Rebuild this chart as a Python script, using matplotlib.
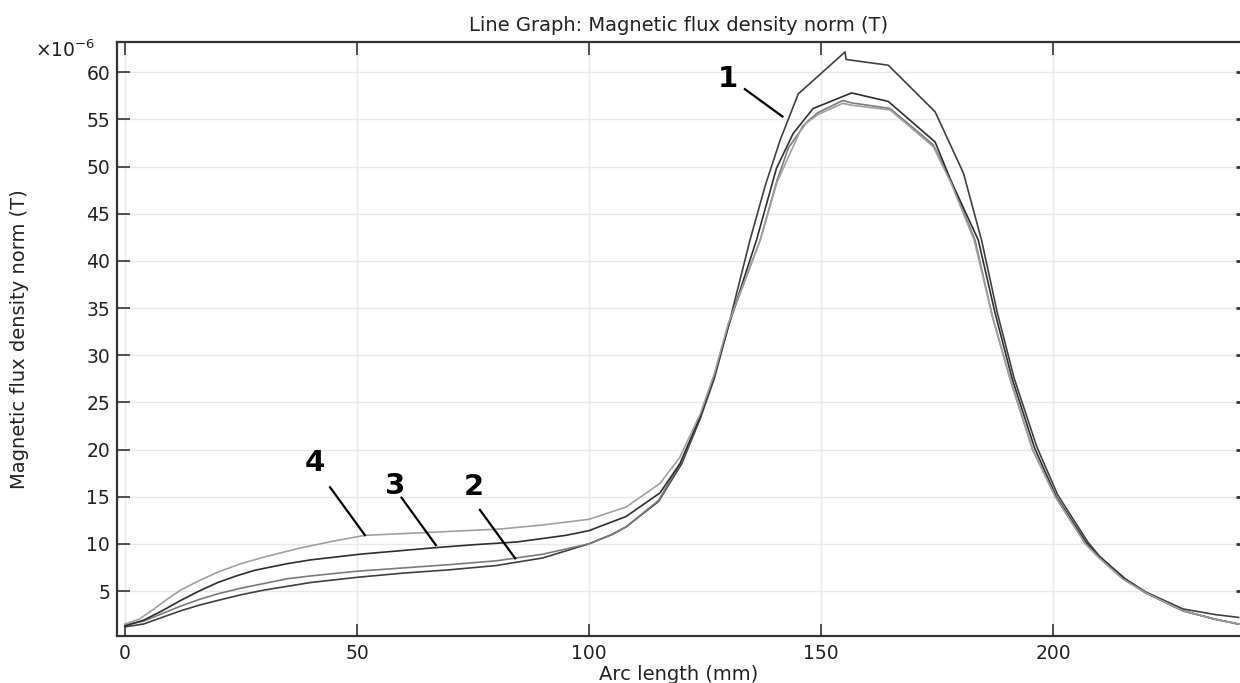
import matplotlib.pyplot as plt
import numpy as np

# arc length (mm) and |B| (x1e-6 T) for the four curves
x1 = [0, 4, 8, 12, 16, 20, 25, 30, 35, 40, 50, 60, 70, 80, 90, 100, 105, 108, 115, 120, 124,
      127, 130, 134.7, 138, 141.2, 145.1, 155.2, 155.4, 164.5, 174.6, 180.7, 184.6, 188,
      191.6, 196.5, 201, 207.5, 210, 215.5, 220, 228, 235, 240]
b1 = [1.2, 1.5, 2.2, 2.9, 3.5, 4.0, 4.6, 5.1, 5.5, 5.9, 6.45, 6.9, 7.25, 7.7, 8.5, 10.0, 11.0,
      11.8, 14.5, 18.5, 23.3, 27.5, 33.0, 42.2, 48.0, 52.8, 57.7, 62.15, 61.35, 60.74, 55.8,
      49.3, 42.2, 34.5, 27.6, 20.3, 15.2, 10.2, 8.7, 6.3, 4.9, 3.1, 2.5, 2.2]

x2 = [0, 4, 8, 12, 16, 20, 25, 30, 35, 40, 50, 60, 70, 80, 90, 100, 105, 108, 115, 120, 124,
      127, 130, 136.9, 140.5, 143, 146.9, 149.3, 154.7, 156.6, 164.9, 174.2, 178, 183.2,
      187, 190.8, 195.6, 200.5, 207, 210, 215, 220, 228, 235, 240]
b2 = [1.4, 1.8, 2.6, 3.4, 4.1, 4.7, 5.3, 5.8, 6.3, 6.6, 7.1, 7.45, 7.8, 8.2, 8.9, 10.0, 11.0,
      11.8, 14.6, 18.8, 23.5, 27.8, 33.2, 42.2, 48.5, 52.0, 54.7, 55.7, 57.0, 56.75, 56.15,
      52.3, 48.5, 42.2, 34.0, 27.4, 20.0, 15.0, 10.0, 8.5, 6.3, 4.8, 2.9, 2.0, 1.5]

x3 = [0, 4, 8, 12, 16, 20, 24, 28, 35, 40, 51, 60, 67, 75, 84.5, 95, 100, 108, 115.3, 119.6,
      124, 127, 130, 136.1, 140.4, 144, 148.3, 156.6, 164.5, 174.6, 178, 183.9, 187.5,
      191.2, 196, 200.7, 207.2, 210, 215.5, 220, 228, 235, 240]
b3 = [1.3, 1.9, 2.9, 4.0, 5.0, 5.9, 6.6, 7.2, 7.9, 8.3, 8.92, 9.3, 9.6, 9.9, 10.2, 10.9, 11.4,
      12.9, 15.4, 18.5, 23.5, 27.8, 33.0, 42.2, 49.8, 53.5, 56.15, 57.8, 56.9, 52.6, 48.5,
      42.2, 34.5, 27.5, 20.2, 15.0, 10.1, 8.6, 6.3, 4.8, 2.9, 2.0, 1.5]

x4 = [0, 3, 6, 9, 12, 16, 20, 25, 30, 37.7, 45, 51.7, 65, 80.8, 90, 100, 108, 115.3, 119.6,
      124, 127, 130, 136.9, 140.5, 146, 149.3, 154.7, 156.6, 164.9, 174.2, 178, 183, 187,
      190.8, 195.6, 200.5, 207, 210, 215, 220, 228, 235, 240]
b4 = [1.5, 2.0, 3.0, 4.1, 5.1, 6.1, 7.0, 7.9, 8.6, 9.55, 10.3, 10.9, 11.2, 11.57, 12.0, 12.6,
      13.9, 16.4, 19.2, 23.8, 28.0, 33.3, 42.2, 48.3, 54.3, 55.5, 56.7, 56.5, 56.0, 52.1, 48.3,
      42.2, 34.0, 27.4, 20.0, 15.0, 10.0, 8.5, 6.3, 4.8, 2.9, 2.0, 1.5]

xticks = [0, 50, 100, 150, 200]
yticks = [5, 10, 15, 20, 25, 30, 35, 40, 45, 50, 55, 60]

# (label, text position, line start, line end)
callouts = [
    ('1', (130.0, 59.3), (133.6, 58.2), (141.7, 55.3)),
    ('2', (75.2, 16.0), (76.5, 13.6), (84.1, 8.46)),
    ('3', (58.2, 16.1), (59.6, 14.9), (67.0, 9.87)),
    ('4', (40.9, 18.56), (44.2, 16.0), (51.7, 10.93)),
]

fig = plt.figure(figsize=(12.4, 6.83), dpi=100)
ax = fig.add_axes([0.0944, 0.0688, 0.9056, 0.8697])

ax.plot(x1, b1, color='#404040', lw=1.2)
ax.plot(x2, b2, color='#7a7a7a', lw=1.2)
ax.plot(x3, b3, color='#2e2e2e', lw=1.2)
ax.plot(x4, b4, color='#a0a0a0', lw=1.2)

for lab, tpos, p0, p1 in callouts:
    ax.text(tpos[0], tpos[1], lab, ha='center', va='center', fontsize=21,
            fontweight='heavy', color='black')
    ax.plot([p0[0], p1[0]], [p0[1], p1[1]], color='black', lw=1.6)

ax.set_xlim(-1.7, 240.3)
ax.set_ylim(0.23, 63.2)
ax.set_xticks(xticks)
ax.set_yticks(yticks)
ax.grid(True, color='#e8e8e8', lw=1.0)
ax.set_axisbelow(True)

for s in ['left', 'top', 'bottom']:
    ax.spines[s].set_color('#333333')
    ax.spines[s].set_linewidth(1.6)
ax.spines['right'].set_visible(False)

ax.tick_params(axis='both', direction='in', length=9, width=1.2, color='#333333',
               labelsize=13.5, labelcolor='#222222', top=True, right=True)
ax.tick_params(axis='x', pad=6)
ax.tick_params(axis='y', pad=5)
# short ticks on the open right edge
for t in ax.yaxis.get_major_ticks():
    t.tick2line.set_markersize(3)
    t.tick2line.set_markeredgewidth(2)

ax.set_title('Line Graph: Magnetic flux density norm (T)', fontsize=14, color='#222222',
             pad=8)
ax.set_xlabel('Arc length (mm)', fontsize=14, color='#222222', labelpad=1)
ax.set_ylabel('Magnetic flux density norm (T)', fontsize=14, color='#222222')
ax.yaxis.set_label_coords(-0.078, 0.5)
fig.text(0.028, 0.917, r'$\times$10$^{-6}$', fontsize=13.5, color='#222222')

fig.savefig('out.png', dpi=100)
